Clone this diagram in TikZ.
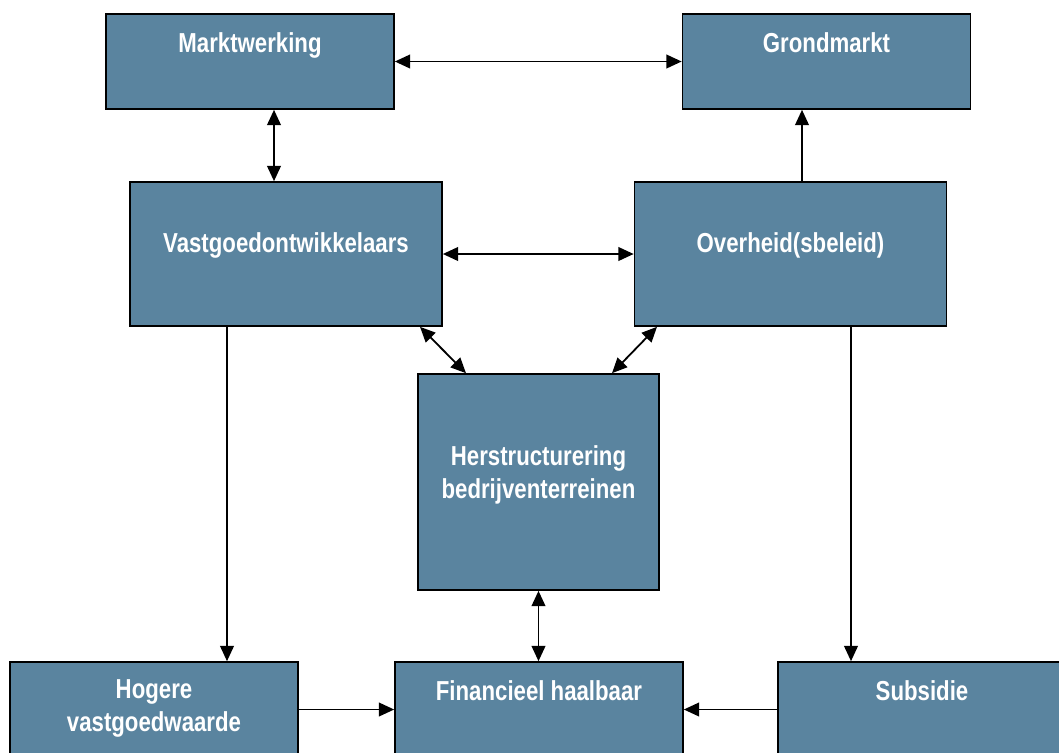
\documentclass[tikz,border=0pt]{standalone}
\usepackage{fontspec}
\setmainfont{Liberation Sans}[FakeStretch=0.81]
\usetikzlibrary{arrows.meta}
\definecolor{blokblauw}{RGB}{90,132,159}

\begin{document}
\begin{tikzpicture}[x=0.025cm, y=-0.025cm,
  blok/.style={draw=black, line width=0.04cm, fill=blokblauw, text=white,
    font=\fontsize{19.5}{22.8}\selectfont\bfseries, align=center, inner sep=0pt},
  pijl/.style={line width=0.045cm, -{Triangle[length=0.38cm, width=0.34cm]}},
  dpijl/.style={line width=0.045cm,
    {Triangle[length=0.38cm, width=0.34cm]}-{Triangle[length=0.38cm, width=0.34cm]}}]

\useasboundingbox (0,0) rectangle (1059,752);

\node[blok, minimum width=7.2cm, text height=0.95cm, text depth=1.425cm] (markt) at (250,61.5) {Marktwerking};
\node[blok, minimum width=7.2cm, text height=0.95cm, text depth=1.425cm] (grond) at (826.5,61.5) {Grondmarkt};

\node[blok, minimum width=7.8cm, text height=1.75cm, text depth=1.85cm] (vgo) at (286,254) {Vastgoedontwikkelaars};
\node[blok, minimum width=7.8cm, text height=1.75cm, text depth=1.85cm] (overh) at (790.5,254) {Overheid(sbeleid)};

\node[blok, minimum width=6.025cm, text height=3.1cm, text depth=2.3cm] (herstr) at (538.5,482) {Herstructurering\\bedrijventerreinen};

\node[blok, minimum width=7.2cm, text height=1.725cm, text depth=0.65cm] (hoger) at (154,709.5) {Hogere\\vastgoedwaarde};
\node[blok, minimum width=7.2cm, text height=0.95cm, text depth=1.425cm] (fin) at (539,709.5) {Financieel haalbaar};
\node[blok, minimum width=7.2cm, text height=0.95cm, text depth=1.425cm] (subs) at (922,709.5) {Subsidie};

\draw[dpijl] (markt) -- (grond);
\draw[dpijl] (markt.south -| 274,0) -- (vgo.north -| 274,0);
\draw[pijl] (overh.north -| 802,0) -- (grond.south -| 802,0);
\draw[dpijl] (vgo) -- (overh);
\draw[dpijl] (vgo.south -| 420,0) -- (herstr.north -| 466,0);
\draw[dpijl] (overh.south -| 657,0) -- (herstr.north -| 612,0);
\draw[pijl] (vgo.south -| 227,0) -- (hoger.north -| 227,0);
\draw[pijl] (overh.south -| 851,0) -- (subs.north -| 851,0);
\draw[dpijl] (herstr.south) -- (herstr.south |- fin.north);
\draw[pijl] (hoger) -- (fin);
\draw[pijl] (subs) -- (fin);

\end{tikzpicture}
\end{document}
